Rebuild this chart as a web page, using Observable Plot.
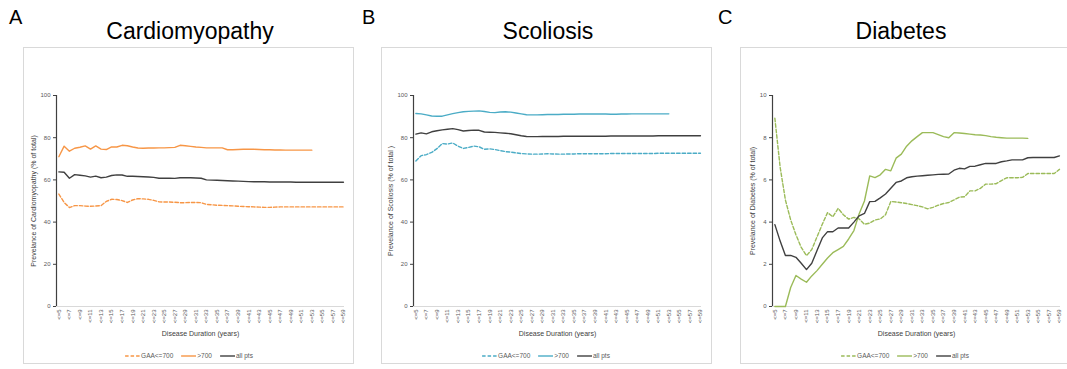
<!DOCTYPE html>
<html>
<head>
<meta charset="utf-8">
<script src="https://cdn.jsdelivr.net/npm/d3@7"></script>
<script src="https://cdn.jsdelivr.net/npm/@observablehq/plot@0.6"></script>
<style>
  html, body { margin: 0; padding: 0; background: #fff; }
  body { width: 1067px; height: 369px; position: relative; overflow: hidden; font-family: "Liberation Sans", Arial, sans-serif; }
  .box { position: absolute; border: 1px solid #d9d9d9; box-sizing: border-box; }
  .letter { position: absolute; font-size: 20px; color: #000; line-height: 1; }
  .title { position: absolute; font-size: 23px; color: #000; line-height: 1; transform: translateX(-50%); white-space: nowrap; }
  .chart { position: absolute; top: 80px; }
  .legend { position: absolute; top: 352px; transform: translateX(-50%); display: flex; align-items: center; font-size: 6.5px; color: #595959; white-space: nowrap; }
  .legend span.item { display: flex; align-items: center; margin: 0 4px; }
  .legend svg { margin-right: 1px; }
</style>
</head>
<body>
<script>
// ---------- data ----------
const categories = d3.range(5, 60); // disease duration <=5 ... <=59
const tickCats = d3.range(5, 60, 2); // labelled categories
const seriesNames = ["GAA<=700", ">700", "all pts"];

// Cardiomyopathy (% of total)
const cardioLow = [53.3,49.3,46.9,47.8,47.8,47.6,47.5,47.6,47.8,49.8,50.8,50.7,50.2,49.3,50.5,51.1,51.0,50.8,50.3,49.6,49.5,49.5,49.4,49.2,49.2,49.3,49.3,49.2,48.4,48.2,48.0,47.9,47.8,47.7,47.5,47.4,47.3,47.2,47.1,47.0,47.0,47.1,47.2,47.2,47.2,47.2,47.2,47.2,47.2,47.2,47.2,47.2,47.2,47.2,47.2];
const cardioHigh = [71.0,76.0,73.6,75.0,75.5,76.1,74.6,76.1,74.6,74.4,75.6,75.6,76.4,76.2,75.6,75.1,75.0,75.1,75.1,75.2,75.2,75.3,75.4,76.4,76.2,75.9,75.6,75.4,75.2,75.2,75.2,75.2,74.3,74.3,74.4,74.5,74.6,74.5,74.4,74.3,74.3,74.2,74.2,74.1,74.1,74.1,74.1,74.1,74.1];
const cardioAll = [63.8,63.6,60.8,62.5,62.2,61.9,61.3,61.8,61.0,61.3,62.1,62.4,62.3,61.7,61.7,61.6,61.5,61.4,61.2,60.8,60.8,60.8,60.7,61.0,61.0,61.0,60.9,60.8,60.0,59.9,59.8,59.7,59.6,59.5,59.4,59.3,59.2,59.1,59.1,59.1,59.0,59.0,59.0,59.0,59.0,58.9,58.9,58.9,58.9,58.9,58.9,58.9,58.9,58.9,58.9];

// Scoliosis (% of total)
const scolLow = [69.0,71.5,72.0,73.0,74.8,77.2,77.0,77.5,76.0,74.9,75.4,76.0,75.7,74.5,74.7,74.4,73.9,73.4,73.2,72.8,72.5,72.3,72.2,72.2,72.3,72.4,72.3,72.2,72.2,72.3,72.3,72.4,72.4,72.4,72.4,72.4,72.4,72.5,72.5,72.5,72.5,72.5,72.5,72.5,72.5,72.5,72.6,72.6,72.6,72.6,72.6,72.6,72.6,72.6,72.6];
const scolHigh = [91.5,91.3,90.8,90.3,90.2,90.2,90.8,91.4,91.9,92.3,92.5,92.6,92.7,92.4,92.0,91.9,92.2,92.3,92.1,91.7,91.3,90.9,90.8,90.8,90.9,91.0,91.0,91.0,91.1,91.1,91.1,91.2,91.2,91.2,91.2,91.3,91.2,91.1,91.1,91.2,91.2,91.3,91.3,91.3,91.3,91.3,91.3,91.3,91.3];
const scolAll = [81.7,82.3,81.8,82.8,83.3,83.7,84.0,84.3,83.8,83.2,83.4,83.6,83.5,82.7,82.6,82.5,82.3,82.1,81.9,81.4,80.9,80.6,80.5,80.5,80.6,80.6,80.6,80.6,80.7,80.7,80.7,80.7,80.7,80.7,80.7,80.7,80.7,80.8,80.8,80.8,80.8,80.8,80.8,80.8,80.8,80.8,80.9,80.9,80.9,80.9,80.9,80.9,80.9,80.9,80.9];

// Diabetes (% of total)
const diabLow = [8.92,6.6,5.05,4.1,3.4,2.8,2.41,2.7,3.3,3.9,4.45,4.25,4.65,4.35,4.14,4.22,4.15,3.9,3.95,4.1,4.15,4.35,4.98,4.95,4.92,4.88,4.83,4.78,4.72,4.63,4.7,4.8,4.88,4.93,5.05,5.18,5.2,5.48,5.48,5.6,5.8,5.8,5.82,5.97,6.1,6.1,6.1,6.12,6.3,6.3,6.3,6.3,6.3,6.3,6.5];
const diabHigh = [0,0,0,0.9,1.47,1.3,1.15,1.45,1.7,2.0,2.3,2.55,2.7,2.85,3.2,3.6,4.4,5.0,6.19,6.11,6.24,6.5,6.43,7.03,7.22,7.6,7.85,8.05,8.24,8.24,8.24,8.15,8.05,8.0,8.24,8.22,8.2,8.17,8.14,8.13,8.1,8.05,8.02,8.0,7.98,7.98,7.98,7.98,7.97];
const diabAll = [3.88,3.1,2.42,2.42,2.33,2.05,1.75,2.05,2.65,3.25,3.55,3.54,3.72,3.72,3.72,4.0,4.3,4.41,4.97,4.98,5.15,5.33,5.6,5.88,5.95,6.1,6.15,6.18,6.2,6.22,6.24,6.26,6.27,6.28,6.46,6.55,6.52,6.64,6.65,6.72,6.78,6.78,6.78,6.86,6.9,6.95,6.95,6.95,7.05,7.06,7.06,7.06,7.06,7.06,7.14];

const cardioTicks = [0,20,40,60,80,100];
const scolTicks = [0,20,40,60,80,100];
const diabTicks = [0,2,4,6,8,10];

// ---------- layout ----------
const panels = [
  {letter:"A", title:"Cardiomyopathy", yTitle:"Prevelance of Cardiomyopathy (% of total)", series:[cardioLow,cardioHigh,cardioAll], ticks:cardioTicks, color:"#F79646",
   box:[23,47,331,317], letterX:9, titleX:190, svgLeft:10, width:346, yTitleDx:-23, legendX:189},
  {letter:"B", title:"Scoliosis", yTitle:"Prevelance of Scoliosis (% of total )", series:[scolLow,scolHigh,scolAll], ticks:scolTicks, color:"#4BACC6",
   box:[381,47,331,317], letterX:362, titleX:548, svgLeft:367, width:348, yTitleDx:-23, legendX:546},
  {letter:"C", title:"Diabetes", yTitle:"Prevelance of Diabetes (% of total)", series:[diabLow,diabHigh,diabAll], ticks:diabTicks, color:"#9BBB59",
   box:[740,47,340,317], letterX:718, titleX:901, svgLeft:726, width:341, yTitleDx:-20, legendX:905}
];

const dash = "3.5,2";
const allColor = "#404040";

for (const p of panels) {
  const box = document.createElement("div");
  box.className = "box";
  Object.assign(box.style, {left:p.box[0]+"px", top:p.box[1]+"px", width:p.box[2]+"px", height:p.box[3]+"px"});
  document.body.appendChild(box);

  const letter = document.createElement("div");
  letter.className = "letter"; letter.textContent = p.letter;
  Object.assign(letter.style, {left:p.letterX+"px", top:"7px"});
  document.body.appendChild(letter);

  const title = document.createElement("div");
  title.className = "title"; title.textContent = p.title;
  Object.assign(title.style, {left:p.titleX+"px", top:"20px"});
  document.body.appendChild(title);

  const rows = [];
  p.series.forEach((vals, si) => vals.forEach((v, i) => rows.push({cat: categories[i], value: v, series: seriesNames[si]})));
  const yMax = p.ticks[p.ticks.length-1];
  const xDomain = [4.55, 59.2];
  const stroke = s => s === "all pts" ? allColor : p.color;

  const chart = Plot.plot({
    width: p.width, height: 270,
    marginLeft: 46, marginRight: p.width - 46 - 288, marginTop: 15, marginBottom: 44,
    style: {fontFamily: "'Liberation Sans', Arial, sans-serif", fontSize: "6px", color: "#595959", background: "transparent", overflow: "visible"},
    x: {type: "linear", domain: xDomain},
    y: {domain: [0, yMax]},
    marks: [
      Plot.ruleY([0], {stroke: "#d9d9d9", strokeWidth: 1}),
      Plot.ruleX([xDomain[0]], {stroke: "#404040", strokeWidth: 1.2}),
      Plot.axisY({ticks: p.ticks, tickSize: 3, tickPadding: 3, label: null, fontSize: 6, stroke: "#404040"}),
      Plot.axisX({ticks: tickCats, tickFormat: d => "<=" + d, tickRotate: -90, tickSize: 0, tickPadding: 3, label: null, fontSize: 6}),
      Plot.text([p.yTitle], {frameAnchor: "left", textAnchor: "middle", lineAnchor: "middle", rotate: -90, dx: p.yTitleDx, text: d => d, fontSize: 7, fill: "#404040"}),
      Plot.text(["Disease Duration (years)"], {frameAnchor: "bottom", textAnchor: "middle", lineAnchor: "middle", dy: 27, text: d => d, fontSize: 7, fill: "#404040"}),
      ...seriesNames.map(s => Plot.line(rows.filter(r => r.series === s), {
        x: "cat", y: "value", stroke: stroke(s), strokeWidth: 1.4,
        strokeDasharray: s === "GAA<=700" ? dash : null, curve: "linear"
      }))
    ]
  });
  const wrap = document.createElement("div");
  wrap.className = "chart";
  wrap.style.left = p.svgLeft + "px";
  wrap.appendChild(chart);
  document.body.appendChild(wrap);

  const legend = document.createElement("div");
  legend.className = "legend";
  legend.style.left = p.legendX + "px";
  seriesNames.forEach(s => {
    const item = document.createElement("span");
    item.className = "item";
    const c = stroke(s);
    item.innerHTML = `<svg width="15" height="6"><line x1="0" y1="3" x2="15" y2="3" stroke="${c}" stroke-width="1.4" ${s === "GAA<=700" ? `stroke-dasharray="${dash}"` : ""}/></svg>`;
    const t = document.createElement("span");
    t.textContent = s;
    item.appendChild(t);
    legend.appendChild(item);
  });
  document.body.appendChild(legend);
}
</script>
</body>
</html>
